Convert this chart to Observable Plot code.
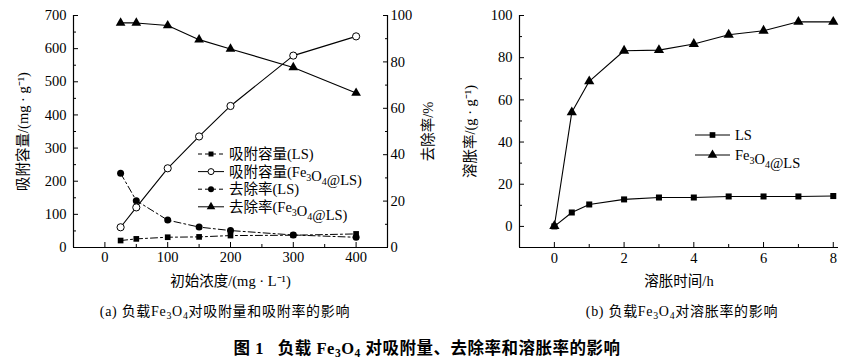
<!DOCTYPE html>
<html><head><meta charset="utf-8">
<script src="https://cdn.jsdelivr.net/npm/d3@7"></script>
<script src="https://cdn.jsdelivr.net/npm/@observablehq/plot@0.6"></script>
<style>
body{margin:0;background:#fff;}
#wrap{position:relative;width:864px;height:362px;font-family:'Liberation Serif','Noto Sans CJK SC',serif;color:#000;overflow:hidden;}
.panel{position:absolute;top:0;}
.cap{position:absolute;font-size:14px;letter-spacing:0.7px;white-space:nowrap;transform:translate(-50%,-50%);}
.cap sub{font-size:0.7em;vertical-align:-0.3em;line-height:0;}
.title{font-size:16.5px;font-weight:bold;letter-spacing:0.5px;}
</style></head><body><div id="wrap"></div><script>
// ---- Data (a): adsorption vs initial concentration ----
const conc = [25, 50, 100, 150, 200, 300, 400];
const adsLS = [21, 26, 31, 32, 36, 37, 41];          // 吸附容量(LS), mg/g
const adsFe = [61, 121, 239, 335, 427, 579, 637];    // 吸附容量(Fe3O4@LS), mg/g
const remLS = [32, 20.2, 11.8, 8.8, 7.3, 5.4, 4.4];  // 去除率(LS), %
const remFe = [96.8, 96.8, 95.7, 89.6, 85.6, 77.6, 66.6]; // 去除率(Fe3O4@LS), %
// ---- Data (b): swelling vs time ----
const timeH = [0, 0.5, 1, 2, 3, 4, 5, 6, 7, 8];
const swLS = [0, 6.6, 10.4, 12.8, 13.7, 13.7, 14.2, 14.2, 14.2, 14.4];
const swFe = [0.2, 54.1, 68.8, 83.3, 83.6, 86.5, 90.9, 92.8, 97, 97];
// ---- Tick labels ----
const xTicksA = [0, 100, 200, 300, 400];
const yTicksA = [0, 100, 200, 300, 400, 500, 600, 700];
const y2TicksA = [0, 20, 40, 60, 80, 100];
const xTicksB = [0, 2, 4, 6, 8];
const yTicksB = [0, 20, 40, 60, 80, 100];

const FONT = "'Liberation Serif','Noto Sans CJK SC',serif";
const K = 7; // right-axis (%) -> left-axis units
const wrap = document.getElementById("wrap");

const dataA = conc.map((c, i) => ({c, adsLS: adsLS[i], adsFe: adsFe[i], remLS: remLS[i] * K, remFe: remFe[i] * K}));
const dataB = timeH.map((t, i) => ({t, ls: swLS[i], fe: swFe[i]}));

const TS = -5, TSm = -3;
const style = {fontFamily: FONT, fontSize: "14.5px", color: "#000", background: "transparent", overflow: "visible"};
const DASH = "7,3,2,3";

const plotA = Plot.plot({
  width: 430, height: 300,
  marginLeft: 73, marginRight: 43, marginTop: 15, marginBottom: 53,
  style,
  x: {domain: [-50, 450]},
  y: {domain: [0, 700]},
  marks: [
    Plot.ruleX([-50, 450], {stroke: "black", strokeWidth: 1.2}),
    Plot.ruleY([0], {stroke: "black", strokeWidth: 1.2}),
    Plot.axisX({ticks: xTicksA, tickSize: TS, tickPadding: 9, label: null}),
    Plot.axisX({ticks: [50, 150, 250, 350], tickSize: TSm, tickFormat: () => "", label: null}),
    Plot.axisY({ticks: yTicksA, tickSize: TS, tickPadding: 12, label: null}),
    Plot.axisY({ticks: d3.range(50, 700, 100), tickSize: TSm, tickFormat: () => "", label: null}),
    Plot.axisY({anchor: "right", ticks: y2TicksA.map(v => v * K), tickFormat: d => d / K, tickSize: TS, tickPadding: 8, label: null}),
    Plot.axisY({anchor: "right", ticks: [10, 30, 50, 70, 90].map(v => v * K), tickSize: TSm, tickFormat: () => "", label: null}),
    Plot.line(dataA, {x: "c", y: "adsLS", stroke: "black", strokeWidth: 1, strokeDasharray: DASH}),
    Plot.line(dataA, {x: "c", y: "remLS", stroke: "black", strokeWidth: 1, strokeDasharray: DASH}),
    Plot.line(dataA, {x: "c", y: "adsFe", stroke: "black", strokeWidth: 1.1}),
    Plot.line(dataA, {x: "c", y: "remFe", stroke: "black", strokeWidth: 1.1}),
    Plot.dot(dataA, {x: "c", y: "adsLS", symbol: "square", fill: "black", r: 3.2}),
    Plot.dot(dataA, {x: "c", y: "remLS", symbol: "circle", fill: "black", r: 3.5}),
    Plot.dot(dataA, {x: "c", y: "adsFe", symbol: "circle", fill: "white", stroke: "black", strokeWidth: 1, r: 3.6}),
    Plot.dot(dataA, {x: "c", y: "remFe", symbol: "triangle", fill: "black", r: 3.6}),
    Plot.text(["初始浓度/(mg · L⁻¹)"], {frameAnchor: "bottom", textAnchor: "middle", lineAnchor: "middle", dy: 34, fontSize: 14.5}),
    Plot.text(["吸附容量/(mg · g⁻¹)"], {frameAnchor: "left", textAnchor: "middle", lineAnchor: "middle", dx: -50, rotate: -90, fontSize: 14.5}),
    Plot.text(["去除率/%"], {frameAnchor: "right", textAnchor: "middle", lineAnchor: "middle", dx: 41, rotate: -90, fontSize: 14.5})
  ]
});
plotA.classList.add("panel");
plotA.style.left = "0px";
wrap.appendChild(plotA);

const plotB = Plot.plot({
  width: 434, height: 300,
  marginLeft: 89, marginRight: 26, marginTop: 15, marginBottom: 53,
  style,
  x: {domain: [-1, 8.15]},
  y: {domain: [-10, 100]},
  marks: [
    Plot.ruleX([-1], {stroke: "black", strokeWidth: 1.2}),
    Plot.ruleY([-10], {stroke: "black", strokeWidth: 1.2}),
    Plot.axisX({ticks: xTicksB, tickSize: TS, tickPadding: 10, label: null}),
    Plot.axisX({ticks: [1, 3, 5, 7], tickSize: TSm, tickFormat: () => "", label: null}),
    Plot.axisY({ticks: yTicksB, tickSize: TS, tickPadding: 12, label: null}),
    Plot.axisY({ticks: [10, 30, 50, 70, 90], tickSize: TSm, tickFormat: () => "", label: null}),
    Plot.line(dataB, {x: "t", y: "ls", stroke: "black", strokeWidth: 1.1}),
    Plot.line(dataB, {x: "t", y: "fe", stroke: "black", strokeWidth: 1.1}),
    Plot.dot(dataB, {x: "t", y: "ls", symbol: "square", fill: "black", r: 3.4}),
    Plot.dot(dataB, {x: "t", y: "fe", symbol: "triangle", fill: "black", r: 3.8}),
    Plot.text(["溶胀时间/h"], {frameAnchor: "bottom", textAnchor: "middle", lineAnchor: "middle", dy: 34, fontSize: 14.5}),
    Plot.text(["溶胀率/(g · g⁻¹)"], {frameAnchor: "left", textAnchor: "middle", lineAnchor: "middle", dx: -49, rotate: -90, fontSize: 14.5})
  ]
});
plotB.classList.add("panel");
plotB.style.left = "430px";
wrap.appendChild(plotB);

// ---- Legends ----
function richText(sel, str) {
  // "_3" marks a subscript digit
  const parts = str.split(/(_\d)/);
  parts.forEach(p => {
    if (!p) return;
    if (p[0] === "_") {
      sel.append("tspan").attr("font-size", "10px").attr("dy", 4).text(p[1]);
      sel.append("tspan").attr("dy", -4).text("");
    } else sel.append("tspan").text(p);
  });
}
function legend(svgEl, items, x0, x1, tx, y0, dyRow, fs) {
  const g = d3.select(svgEl).append("g").attr("font-family", FONT).attr("font-size", fs + "px").attr("text-anchor", "start");
  items.forEach((it, i) => {
    const y = y0 + i * dyRow;
    g.append("line").attr("x1", x0).attr("x2", x1).attr("y1", y).attr("y2", y)
      .attr("stroke", "black").attr("stroke-width", 1).attr("stroke-dasharray", it.dash ? "4,3" : null);
    g.append("path").attr("transform", `translate(${(x0 + x1) / 2},${y})`)
      .attr("d", d3.symbol(it.sym, Math.PI * it.r * it.r)())
      .attr("fill", it.fill).attr("stroke", it.stroke || "none");
    const t = g.append("text").attr("x", tx).attr("y", y).attr("dy", "0.35em").attr("text-anchor", "start");
    richText(t, it.label);
  });
}
legend(plotA, [
  {label: "吸附容量(LS)", dash: true, sym: d3.symbolSquare, r: 2.8, fill: "black"},
  {label: "吸附容量(Fe_3O_4@LS)", dash: false, sym: d3.symbolCircle, r: 3, fill: "white", stroke: "black"},
  {label: "去除率(LS)", dash: true, sym: d3.symbolCircle, r: 3, fill: "black"},
  {label: "去除率(Fe_3O_4@LS)", dash: false, sym: d3.symbolTriangle, r: 3.2, fill: "black"}
], 198, 224, 229, 154, 17.6, 14.5);
legend(plotB, [
  {label: "LS", dash: false, sym: d3.symbolSquare, r: 3.2, fill: "black"},
  {label: "Fe_3O_4@LS", dash: false, sym: d3.symbolTriangle, r: 3.6, fill: "black"}
], 265, 300, 305, 135, 20, 14.5);

// ---- Captions ----
function cap(html, x, y, cls) {
  const d = document.createElement("div");
  d.className = "cap" + (cls ? " " + cls : "");
  d.style.left = x + "px"; d.style.top = y + "px";
  d.innerHTML = html;
  wrap.appendChild(d);
}
cap("(a) 负载Fe<sub>3</sub>O<sub>4</sub>对吸附量和吸附率的影响", 225, 310);
cap("(b) 负载Fe<sub>3</sub>O<sub>4</sub>对溶胀率的影响", 682, 310);
cap("图 1&nbsp;&nbsp;&nbsp;负载 Fe<sub>3</sub>O<sub>4</sub> 对吸附量、去除率和溶胀率的影响", 427, 347, "title");
</script></body></html>
